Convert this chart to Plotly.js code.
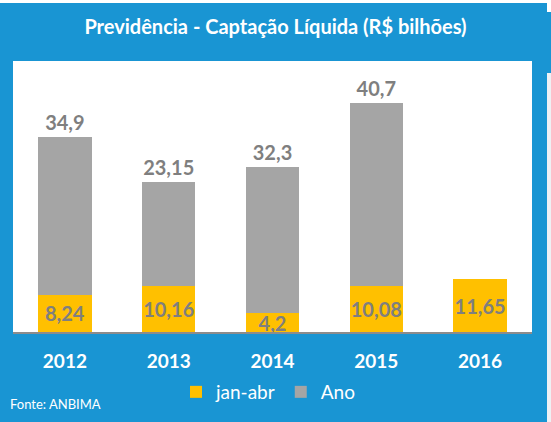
<!DOCTYPE html>
<html>
<head>
<meta charset="utf-8">
<script src="https://cdn.plot.ly/plotly-3.0.1.min.js"></script>
<style>html,body{margin:0;padding:0;background:#1995d3;}#chart{width:551px;height:422px;}</style>
</head>
<body>
<div id="chart"></div>
<script>
const years = ['2012', '2013', '2014', '2015', '2016'];
const janAbr = [8.24, 10.16, 4.2, 10.08, 11.65];
const ano = [34.9, 23.15, 32.3, 40.7, null];
const janAbrLabels = ['8,24', '10,16', '4,2', '10,08', '11,65'];
const anoLabels = ['34,9', '23,15', '32,3', '40,7', ''];

const FONT = 'Lato, "Open Sans", sans-serif';
const BLUE = '#1995d3';

const traces = [
  {
    type: 'bar', name: 'jan-abr', x: years, y: janAbr,
    text: janAbrLabels, textposition: 'inside', insidetextanchor: 'middle',
    constraintext: 'none', textangle: 0,
    textfont: {family: FONT, size: 20, color: '#7f7f7f', weight: 'bold'},
    marker: {color: '#ffc000', line: {width: 0}},
    hoverinfo: 'skip'
  },
  {
    type: 'bar', name: 'Ano', x: years, y: ano,
    text: anoLabels, textposition: 'outside', constraintext: 'none', textangle: 0,
    cliponaxis: false,
    textfont: {family: FONT, size: 20, color: '#7f7f7f', weight: 'bold'},
    marker: {color: '#a5a5a5', line: {width: 0}},
    hoverinfo: 'skip'
  }
];

const layout = {
  width: 551, height: 422,
  margin: {l: 13, r: 19, t: 61, b: 90},
  paper_bgcolor: BLUE,
  plot_bgcolor: '#ffffff',
  barmode: 'stack',
  bargap: 0.485,
  title: {
    text: '<b>Previdência - Captação Líquida (R$ bilhões)</b>',
    font: {family: FONT, size: 20, color: '#ffffff'},
    x: 0.5, xanchor: 'center', y: 1 - 27/422, yanchor: 'middle', automargin: false
  },
  xaxis: {
    type: 'category', range: [-0.5, 4.5], automargin: false,
    showgrid: false, zeroline: false,
    showline: true, linecolor: '#8c8c8c', linewidth: 1.5,
    ticks: '', ticklabelstandoff: 12,
    tickfont: {family: FONT, size: 19, color: '#ffffff', weight: 'bold'}
  },
  yaxis: {
    range: [0, 60], visible: false, showgrid: false, zeroline: false, fixedrange: true, automargin: false
  },
  showlegend: true,
  legend: {
    orientation: 'h', xref: 'container', yref: 'container',
    x: 268 / 551, xanchor: 'center', y: 1 - 392 / 422, yanchor: 'middle',
    font: {family: FONT, size: 19, color: '#ffffff'},
    bgcolor: 'rgba(0,0,0,0)', itemwidth: 30, traceorder: 'normal'
  },
  annotations: [
    {
      text: 'Fonte: ANBIMA', xref: 'paper', yref: 'paper',
      x: -0.0096, xanchor: 'left', y: (332 - 404) / 271, yanchor: 'middle',
      showarrow: false, font: {family: FONT, size: 13, color: '#ffffff'}
    }
  ],
  shapes: [
    {type: 'rect', xref: 'paper', yref: 'paper', x0: -0.03, x1: 1.04,
     y0: (332 - 3) / 271, y1: (332 + 1) / 271 , line: {width: 0}, fillcolor: '#ffffff', layer: 'below'},
    {type: 'rect', xref: 'paper', yref: 'paper', x0: (547 - 13) / 519, x1: (552 - 13) / 519,
     y0: (332 - 423) / 271, y1: (332 - 73) / 271, line: {width: 0}, fillcolor: '#eef1f4', layer: 'below'},
    {type: 'rect', xref: 'paper', yref: 'paper', x0: (547 - 13) / 519, x1: (552 - 13) / 519,
     y0: (332 - 12) / 271, y1: (332 + 1) / 271, line: {width: 0}, fillcolor: '#ffffff', layer: 'below'}
  ]
};

Plotly.newPlot('chart', traces, layout, {displayModeBar: false, staticPlot: true});
</script>
</body>
</html>
